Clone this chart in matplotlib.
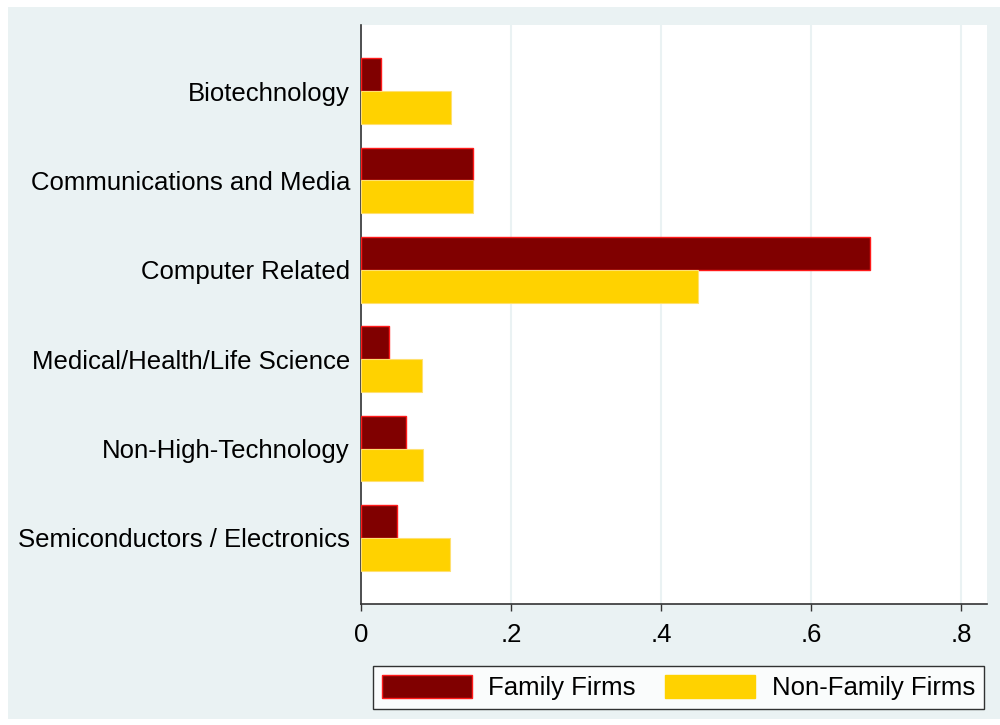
import matplotlib
matplotlib.use("Agg")
import matplotlib.pyplot as plt
from matplotlib.patches import Rectangle, Patch
import numpy as np

plt.rcParams['font.family'] = ['Liberation Sans', 'DejaVu Sans']

industries = ["Biotechnology", "Communications and Media", "Computer Related",
              "Medical/Health/Life Science", "Non-High-Technology",
              "Semiconductors / Electronics"]
family = [0.027, 0.149, 0.679, 0.038, 0.060, 0.048]
non_family = [0.120, 0.149, 0.449, 0.082, 0.083, 0.119]
xticks = [0, 0.2, 0.4, 0.6, 0.8]
xtick_labels = ["0", ".2", ".4", ".6", ".8"]

BG = "#EAF2F3"
FAM = "#800000"
NONFAM = "#FFD200"
FS = 18.5

fig = plt.figure(figsize=(10, 7.25), dpi=100)
fig.patch.set_facecolor("white")
fig.patches.append(Rectangle((8 / 1000, 1 - 719 / 725), 992 / 1000, 712 / 725,
                             transform=fig.transFigure, facecolor=BG,
                             edgecolor="none", zorder=-10))

ax = fig.add_axes([0.361, 1 - 604 / 725, 0.626, (604 - 25) / 725])
ax.set_facecolor("white")

y = np.arange(len(industries))
h = 0.368
ax.barh(y - h / 2, family, height=h, color=FAM, edgecolor="#FF1A1A", linewidth=1.0, zorder=3)
ax.barh(y + h / 2, non_family, height=h, color=NONFAM, edgecolor="#FFE070", linewidth=0.8, zorder=3)

ax.set_ylim(5.74, -0.74)
ax.set_xlim(0, 0.8347)
ax.set_yticks(y)
ax.set_yticklabels(industries, fontsize=FS)
ax.set_xticks(xticks)
ax.set_xticklabels(xtick_labels, fontsize=FS)
ax.tick_params(axis="y", length=0, pad=8)
ax.tick_params(axis="x", length=5, width=1, color="#333333", pad=9)

ax.grid(axis="x", color=BG, linewidth=1.5, zorder=0)
for s in ["top", "right"]:
    ax.spines[s].set_visible(False)
for s in ["left", "bottom"]:
    ax.spines[s].set_color("#333333")
    ax.spines[s].set_linewidth(1.2)

handles = [Patch(facecolor=FAM, edgecolor="#FF1A1A", linewidth=1.0, label="Family Firms"),
           Patch(facecolor=NONFAM, edgecolor=NONFAM, label="Non-Family Firms")]
leg = fig.legend(handles=handles, loc="center", bbox_to_anchor=(0.6785, 1 - 687.5 / 725),
                 ncol=2, fontsize=FS, frameon=True, fancybox=False,
                 handlelength=3.5, handleheight=1.0, handletextpad=0.65,
                 columnspacing=1.15, borderpad=0.35, borderaxespad=0)
leg.get_frame().set_edgecolor("black")
leg.get_frame().set_linewidth(1.0)
leg.get_frame().set_facecolor("white")

fig.savefig("out.png", dpi=100, facecolor=fig.get_facecolor())
